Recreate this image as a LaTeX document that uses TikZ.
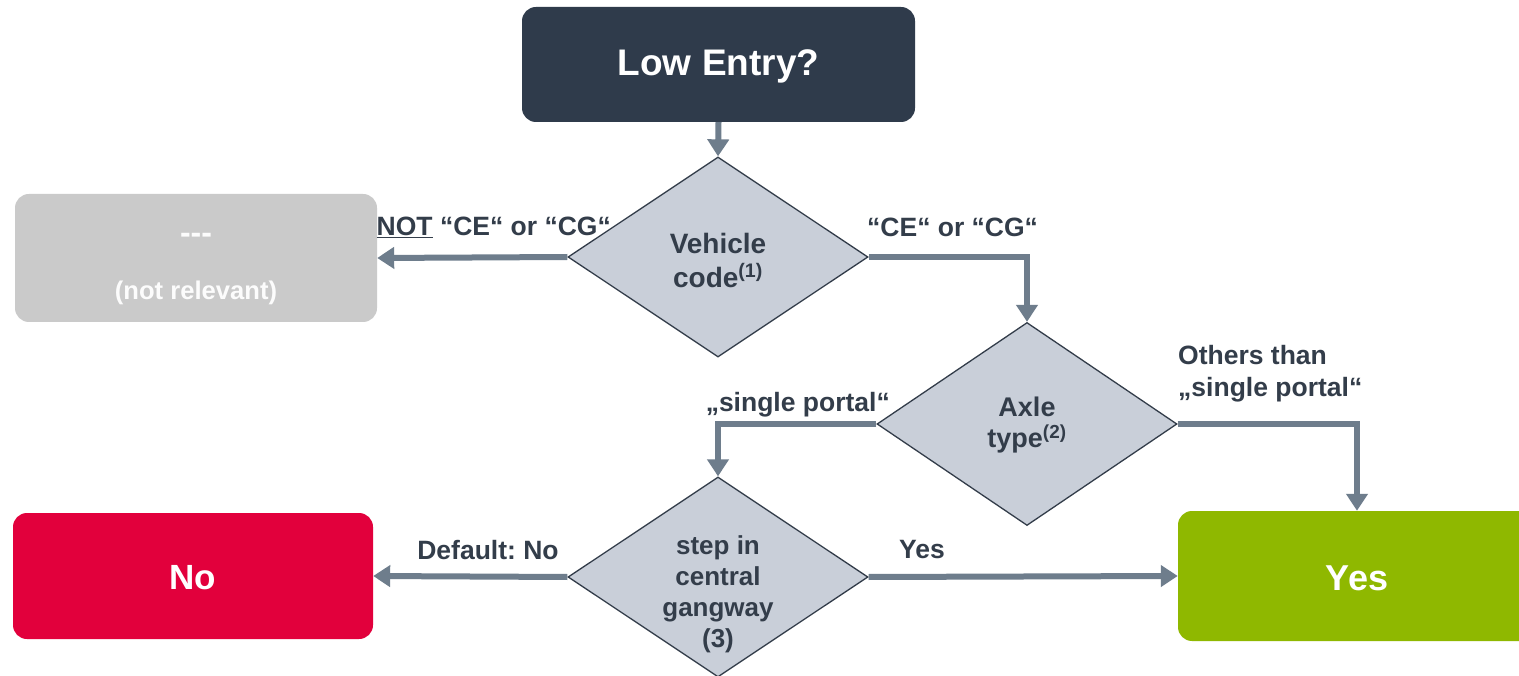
\documentclass[tikz,border=0pt]{standalone}
\usepackage{fontspec}
\setmainfont{Liberation Sans}
\usetikzlibrary{shapes.geometric,arrows.meta}
\frenchspacing

\definecolor{navy}{HTML}{2F3B4B}
\definecolor{inkc}{HTML}{333D4A}
\definecolor{flowc}{HTML}{6E7D8C}
\definecolor{decfill}{HTML}{C9CFD9}
\definecolor{mutedc}{HTML}{CACACA}
\definecolor{noc}{HTML}{E2003C}
\definecolor{yesc}{HTML}{8FB800}

\tikzset{
  box/.style={rounded corners=14pt, inner sep=0pt, draw=none},
  decision/.style={diamond, draw=inkc, line width=1.3pt, fill=decfill,
    inner sep=0pt, minimum width=300pt},
  dectext/.style={text=inkc, align=center, font=\bfseries\fontsize{27}{32}\selectfont},
  flow/.style={draw=flowc, line width=6pt,
    -{Triangle[width=21pt,length=17pt]}},
  lbl/.style={text=inkc, font=\bfseries\fontsize{26.5}{32}\selectfont, inner sep=0pt},
}

\begin{document}
\begin{tikzpicture}[x=1pt,y=-1pt]
\clip (0,0) rectangle (1519,676);
\fill[white] (0,0) rectangle (1519,676);

% boxes
\node[box, fill=navy, minimum width=393pt, minimum height=115pt] (low) at (718.5,64.5) {};
\node[text=white, font=\bfseries\fontsize{37}{40}\selectfont] (lowt) at (718.5,66) {Low Entry?};

\node[box, fill=mutedc, minimum width=362pt, minimum height=128pt] (nr) at (196,258) {};
\node[text=white!95!mutedc, font=\bfseries\fontsize{32}{30}\selectfont] (nrdash) at (196,238) {{-}{-}{-}};
\node[text=white!95!mutedc, font=\bfseries\fontsize{25.6}{30}\selectfont] (nrtext) at (196,293) {(not relevant)};

\node[box, fill=noc, minimum width=360pt, minimum height=126pt] (no) at (193,576) {};
\node[text=white, font=\bfseries\fontsize{35}{40}\selectfont] (not) at (193,578) {No};

\node[box, fill=yesc, minimum width=358pt, minimum height=130pt] (yes) at (1357,576) {};
\node[text=white, font=\bfseries\fontsize{36}{40}\selectfont] (yest) at (1357,578) {Yes};

% decisions
\node[decision, minimum height=200pt] (veh) at (718,257) {};
\node[dectext, font=\bfseries\fontsize{28}{34}\selectfont] (veht) at (718,260) {Vehicle\\code\textsuperscript{(1)}};

\node[decision, minimum height=203pt] (axle) at (1027,424) {};
\node[dectext, font=\bfseries\fontsize{27}{31}\selectfont] (axlet) at (1027,425) {Axle\\type\textsuperscript{(2)}};

\node[decision, minimum height=200pt] (step) at (718,577) {};
\node[dectext, font=\bfseries\fontsize{26}{31}\selectfont] (stept) at (718,594) {step in\\central\\gangway\\(3)};

% connectors
\draw[flow] (low.south) -- (veh.north);
\draw[flow] (veh.west) -- (nr.east);
\draw[flow] (veh.east) -| (axle.north);
\draw[flow] (axle.west) -| (step.north);
\draw[flow] (axle.east) -| (yes.north);
\draw[flow] (step.east) -- (yes.west);
\draw[flow] (step.west) -- (no.east);

% connector labels
\node[lbl, anchor=east] (l1) at (611,227) {\underline{NOT} “CE“ or “CG“};
\node[lbl, anchor=west] (l2) at (867,227) {“CE“ or “CG“};
\node[lbl, anchor=east] (l3) at (890,405) {„single portal“};
\node[lbl, anchor=west, align=left] (l4) at (1178,374) {Others than\\„single portal“};
\node[lbl] (l5) at (488,550) {Default: No};
\node[lbl] (l6) at (922,550) {Yes};
\end{tikzpicture}
\end{document}
